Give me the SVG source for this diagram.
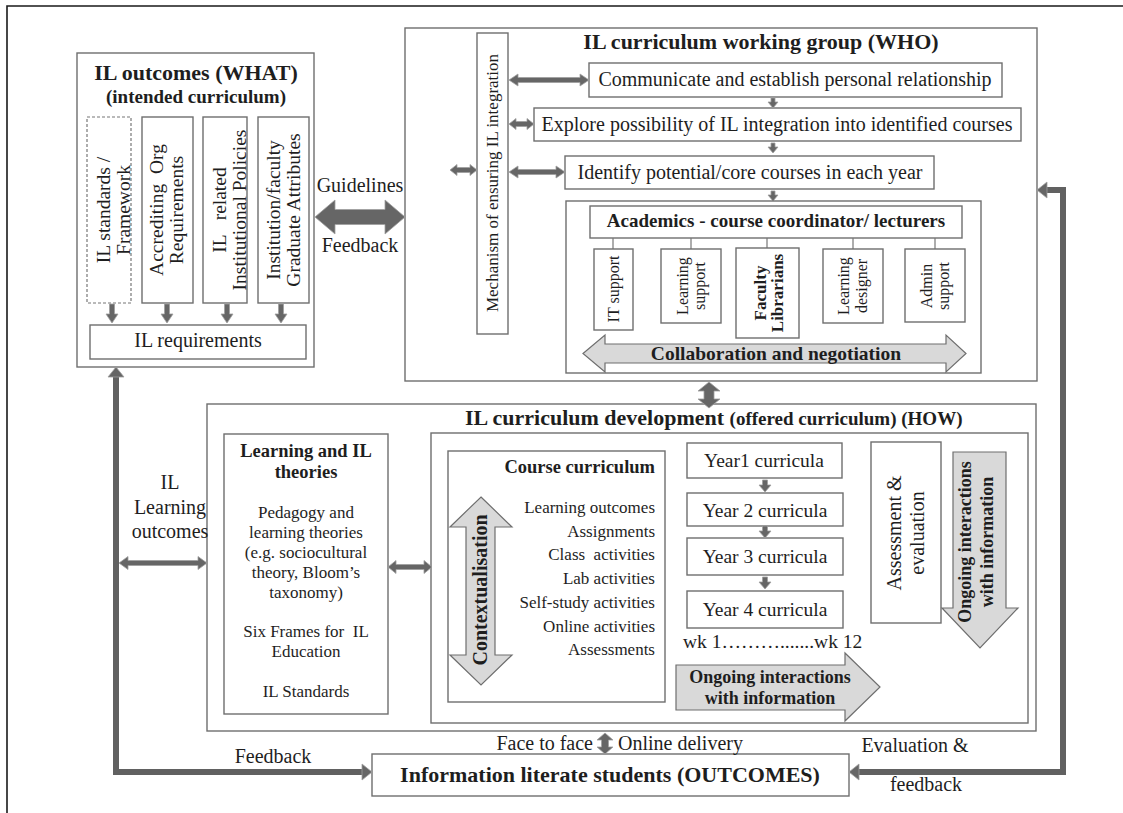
<svg xmlns="http://www.w3.org/2000/svg" xmlns:xlink="http://www.w3.org/1999/xlink" width="1123" height="813" viewBox="0 0 1123 813">
<style>
.box{fill:#fff;stroke:#6e6e6e;stroke-width:1.4}
.dash{fill:#fff;stroke:#777;stroke-width:1.2;stroke-dasharray:3 2}
.t{font-family:"Liberation Serif","Times New Roman",serif;fill:#1e1e1e}
.b{font-weight:bold}
.m{text-anchor:middle}
.e{text-anchor:end}
.darr{fill:#666;stroke:#a0a0a0;stroke-width:0.8}
.larr{fill:#d9d9d9;stroke:#6e6e6e;stroke-width:1.2}
.thick{fill:none;stroke:#616161;stroke-width:6}
.thin{stroke:#777;stroke-width:1.2;fill:none}
.frame{stroke:#1a1a1a;stroke-width:1.6;fill:none}
</style>
<defs>
<path id="dn20" d="M-2.5,0 H2.5 V10 H6 L0,19 L-6,10 H-2.5 Z"/>
<path id="dn12" d="M-2.5,0 H2.5 V5 H6 L0,12 L-6,5 H-2.5 Z"/>
<path id="dn10" d="M-2,0 H2 V4 H5 L0,10 L-5,4 H-2 Z"/>
</defs>

<g id="frame">
<path class="frame" d="M7,813 V6 H1123"/>
</g>

<g id="il-outcomes">
<rect class="box" x="77" y="53" width="237" height="314"/>
<text class="t b m" x="196" y="80" font-size="22">IL outcomes (WHAT)</text>
<text class="t b m" x="196" y="103" font-size="19">(intended curriculum)</text>
<rect class="dash" x="87" y="117" width="44" height="186"/>
<rect class="box" x="142" y="117" width="51" height="186"/>
<rect class="box" x="203" y="117" width="44" height="186"/>
<rect class="box" x="258" y="117" width="51" height="186"/>
<text class="t m" font-size="19.5" transform="translate(110,210) rotate(-90)">IL standards /</text>
<text class="t m" font-size="19.5" transform="translate(130,210) rotate(-90)">Framework</text>
<text class="t m" font-size="19.5" transform="translate(163,210) rotate(-90)" xml:space="preserve">Accrediting  Org</text>
<text class="t m" font-size="19.5" transform="translate(183,210) rotate(-90)">Requirements</text>
<text class="t m" font-size="19.5" transform="translate(226,210) rotate(-90)" xml:space="preserve">IL   related</text>
<text class="t m" font-size="19.5" transform="translate(246,210) rotate(-90)">Institutional Policies</text>
<text class="t m" font-size="19.5" transform="translate(280,210) rotate(-90)">Institution/faculty</text>
<text class="t m" font-size="19.5" transform="translate(300,210) rotate(-90)">Graduate Attributes</text>
<use href="#dn20" class="darr" x="112" y="304"/>
<use href="#dn20" class="darr" x="167" y="304"/>
<use href="#dn20" class="darr" x="227" y="304"/>
<use href="#dn20" class="darr" x="281" y="304"/>
<rect class="box" x="90" y="325" width="216" height="34"/>
<text class="t m" x="198" y="347" font-size="20">IL requirements</text>
</g>

<g id="who">
<rect class="box" x="405" y="28" width="632" height="353"/>
<text class="t b m" x="761" y="49" font-size="22">IL curriculum working group (WHO)</text>
<rect class="box" x="477" y="33" width="31" height="301"/>
<text class="t m" font-size="17" transform="translate(498,183) rotate(-90)">Mechanism of ensuring IL integration</text>
<rect class="box" x="589" y="63" width="413" height="34"/>
<text class="t m" x="795" y="86" font-size="20">Communicate and establish personal relationship</text>
<rect class="box" x="534" y="108" width="487" height="33"/>
<text class="t m" x="777" y="131" font-size="20">Explore possibility of IL integration into identified courses</text>
<rect class="box" x="565" y="156" width="369" height="33"/>
<text class="t m" x="750" y="179" font-size="20">Identify potential/core courses in each year</text>
<use href="#dn10" class="darr" x="773" y="98"/>
<use href="#dn10" class="darr" x="773" y="143"/>
<use href="#dn10" class="darr" x="773" y="191"/>
</g>

<g id="academics">
<rect class="box" x="566" y="201" width="415" height="172"/>
<rect class="box" x="590" y="206" width="372" height="32"/>
<text class="t b m" x="776" y="227" font-size="19">Academics - course coordinator/ lecturers</text>
<path class="thin" d="M613,238 V249 M691,238 V249 M767,238 V248 M853,238 V249 M935,238 V249"/>
<rect class="box" x="594" y="249" width="39" height="81"/>
<text class="t m" font-size="16" transform="translate(619,289) rotate(-90)">IT support</text>
<rect class="box" x="661" y="249" width="60" height="74"/>
<text class="t m" font-size="16" transform="translate(688,286) rotate(-90)">Learning</text>
<text class="t m" font-size="16" transform="translate(705,286) rotate(-90)">support</text>
<rect class="box" x="736" y="248" width="63" height="90"/>
<text class="t b m" font-size="17" transform="translate(766,293) rotate(-90)">Faculty</text>
<text class="t b m" font-size="17" transform="translate(783,293) rotate(-90)">Librarians</text>
<rect class="box" x="823" y="249" width="60" height="74"/>
<text class="t m" font-size="16" transform="translate(849,286) rotate(-90)">Learning</text>
<text class="t m" font-size="16" transform="translate(867,286) rotate(-90)">designer</text>
<rect class="box" x="905" y="249" width="60" height="73"/>
<text class="t m" font-size="16" transform="translate(932,286) rotate(-90)">Admin</text>
<text class="t m" font-size="16" transform="translate(949,286) rotate(-90)">support</text>
<path class="larr" d="M583,353.5 L605,335 L605,344 L946,344 L946,335 L966,353.5 L946,372 L946,363 L605,363 L605,372 Z"/>
<text class="t b m" x="776" y="360" font-size="19.5">Collaboration and negotiation</text>
</g>

<g id="how">
<rect class="box" x="207" y="404" width="829" height="327"/>
<text class="t b" x="465" y="425" font-size="22">IL curriculum development <tspan font-size="19">(offered curriculum) (HOW)</tspan></text>
</g>

<g id="theories">
<rect class="box" x="224" y="434" width="164" height="280"/>
<text class="t b m" x="306" y="457" font-size="18.5">Learning and IL</text>
<text class="t b m" x="306" y="478" font-size="18.5">theories</text>
<text class="t m" x="306" y="518" font-size="17">Pedagogy and</text>
<text class="t m" x="306" y="538" font-size="17">learning theories</text>
<text class="t m" x="306" y="558" font-size="17">(e.g. sociocultural</text>
<text class="t m" x="306" y="578" font-size="17">theory, Bloom’s</text>
<text class="t m" x="306" y="598" font-size="17">taxonomy)</text>
<text class="t m" x="306" y="637" font-size="17" xml:space="preserve">Six Frames for  IL</text>
<text class="t m" x="306" y="657" font-size="17">Education</text>
<text class="t m" x="306" y="697" font-size="17">IL Standards</text>
</g>

<g id="offered">
<rect class="box" x="431" y="433" width="597" height="290"/>
</g>

<g id="course">
<rect class="box" x="448" y="451" width="217" height="251"/>
<text class="t b e" x="655" y="473" font-size="18.5">Course curriculum</text>
<text class="t e" x="655" y="513" font-size="17">Learning outcomes</text>
<text class="t e" x="655" y="537" font-size="17">Assignments</text>
<text class="t e" x="655" y="560" font-size="17" xml:space="preserve">Class  activities</text>
<text class="t e" x="655" y="584" font-size="17">Lab activities</text>
<text class="t e" x="655" y="608" font-size="17">Self-study activities</text>
<text class="t e" x="655" y="632" font-size="17">Online activities</text>
<text class="t e" x="655" y="655" font-size="17">Assessments</text>
<path class="larr" d="M481,497 L512,527 L495,527 L495,655 L512,655 L481,685 L450,655 L466,655 L466,527 L450,527 Z"/>
<text class="t b m" font-size="20" transform="translate(487,590) rotate(-90)">Contextualisation</text>
</g>

<g id="years">
<rect class="box" x="687" y="443" width="155" height="35"/>
<text class="t m" x="764" y="467" font-size="19.5">Year1 curricula</text>
<rect class="box" x="687" y="493" width="156" height="33"/>
<text class="t m" x="765" y="517" font-size="19.5">Year 2 curricula</text>
<rect class="box" x="687" y="538" width="156" height="37"/>
<text class="t m" x="765" y="563" font-size="19.5">Year 3 curricula</text>
<rect class="box" x="687" y="591" width="156" height="37"/>
<text class="t m" x="765" y="616" font-size="19.5">Year 4 curricula</text>
<use href="#dn12" class="darr" x="765" y="480"/>
<use href="#dn12" class="darr" x="765" y="526"/>
<use href="#dn12" class="darr" x="765" y="577"/>
<text class="t" x="683" y="648" font-size="19.5">wk 1……….......wk 12</text>
<path class="larr" d="M676,665 L845,665 L845,653 L880,687 L845,721 L845,710 L676,710 Z"/>
<text class="t b m" x="770" y="683" font-size="18">Ongoing interactions</text>
<text class="t b m" x="770" y="704" font-size="18">with information</text>
</g>

<g id="assessment">
<rect class="box" x="871" y="442" width="70" height="181"/>
<text class="t m" font-size="20" transform="translate(901,533) rotate(-90)">Assessment &amp;</text>
<text class="t m" font-size="20" transform="translate(924,533) rotate(-90)">evaluation</text>
<path class="larr" d="M953,452 L1006,452 L1006,608 L1018,608 L980,648 L942,608 L953,608 Z"/>
<text class="t b m" font-size="18" transform="translate(971,542) rotate(-90)">Ongoing interactions</text>
<text class="t b m" font-size="18" transform="translate(993,542) rotate(-90)">with information</text>
</g>

<g id="students">
<rect class="box" x="372" y="754" width="477" height="42"/>
<text class="t b m" x="610" y="782" font-size="22">Information literate students (OUTCOMES)</text>
</g>

<g id="connectors">
<path class="darr" d="M315,217 L335,200 L335,209.5 L385,209.5 L385,200 L405,217 L385,234 L385,224.5 L335,224.5 L335,234 Z"/>
<path class="darr" d="M509,80 L518,74 L518,77.5 L580,77.5 L580,74 L589,80 L580,86 L580,82.5 L518,82.5 L518,86 Z"/>
<path class="darr" d="M509,124 L516,118.5 L516,121.5 L527,121.5 L527,118.5 L534,124 L527,129.5 L527,126.5 L516,126.5 L516,129.5 Z"/>
<path class="darr" d="M509,172 L518,166 L518,169.5 L556,169.5 L556,166 L565,172 L556,178 L556,174.5 L518,174.5 L518,178 Z"/>
<path class="darr" d="M450,170 L457,164.5 L457,167.5 L470,167.5 L470,164.5 L477,170 L470,175.5 L470,172.5 L457,172.5 L457,175.5 Z"/>
<path class="darr" d="M709,382 L720,391 L714,391 L714,399 L720,399 L709,408 L698,399 L704,399 L704,391 L698,391 Z"/>
<path class="darr" d="M388,567 L396,560.5 L396,564.5 L424,564.5 L424,560.5 L432,567 L424,573.5 L424,569.5 L396,569.5 L396,573.5 Z"/>
<path class="darr" d="M119,563 L128,556.5 L128,560.5 L198,560.5 L198,556.5 L207,563 L198,569.5 L198,565.5 L128,565.5 L128,569.5 Z"/>
<path class="darr" d="M605,733 L613,740 L608.5,740 L608.5,747 L613,747 L605,754 L597,747 L601.5,747 L601.5,740 L597,740 Z"/>
<path class="thick" d="M116,377 V772 H362"/>
<path class="darr" d="M116,367 L124,377 L108,377 Z"/>
<path class="darr" d="M372,772 L362,764 L362,780 Z"/>
<path class="thick" d="M859,772 H1063 V190 H1047"/>
<path class="darr" d="M849,772 L859,764 L859,780 Z"/>
<path class="darr" d="M1037,190 L1047,182 L1047,198 Z"/>
<text class="t m" x="360" y="192" font-size="20">Guidelines</text>
<text class="t m" x="360" y="252" font-size="20">Feedback</text>
<text class="t m" x="170" y="489" font-size="20">IL</text>
<text class="t m" x="170" y="514" font-size="20">Learning</text>
<text class="t m" x="170" y="538" font-size="20">outcomes</text>
<text class="t m" x="273" y="763" font-size="20">Feedback</text>
<text class="t e" x="593" y="750" font-size="20">Face to face</text>
<text class="t" x="618" y="750" font-size="20">Online delivery</text>
<text class="t m" x="915" y="752" font-size="20">Evaluation &amp;</text>
<text class="t m" x="926" y="791" font-size="20">feedback</text>
</g>
</svg>
